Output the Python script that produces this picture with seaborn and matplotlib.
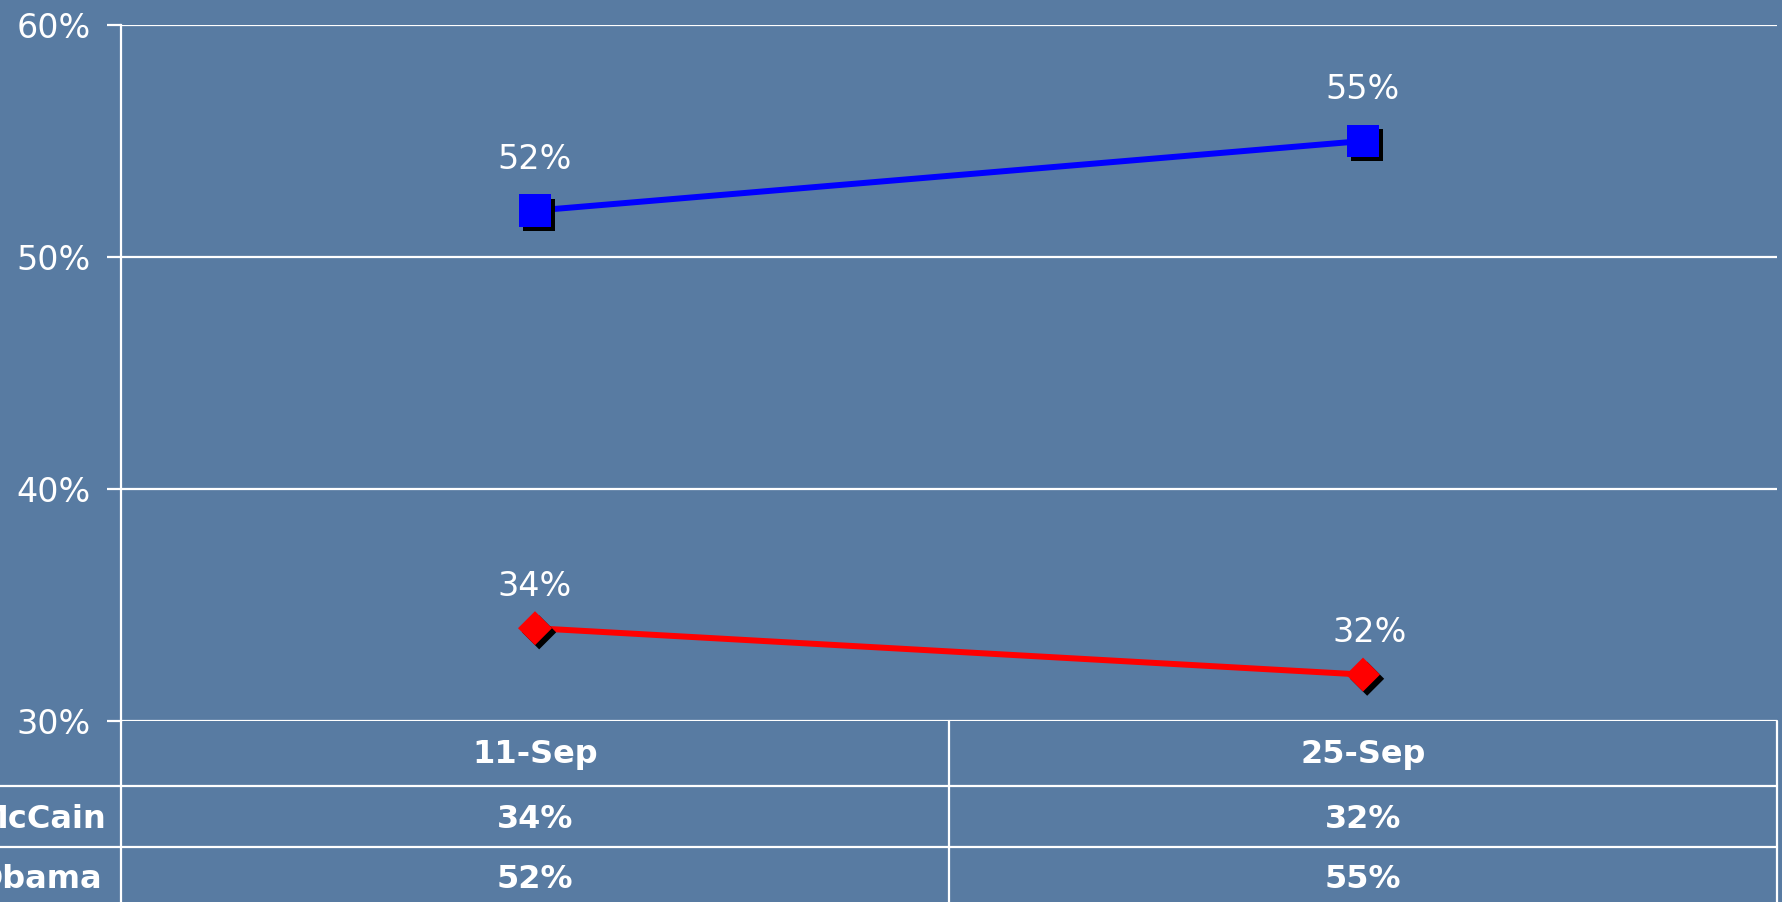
import matplotlib
matplotlib.use("Agg")
import matplotlib.pyplot as plt
import matplotlib.patheffects as pe
import matplotlib.transforms as mtransforms
from matplotlib.lines import Line2D
from matplotlib.ticker import FuncFormatter, MultipleLocator
import pandas as pd
import seaborn as sns

# ---------------- data ----------------
dates = ["11-Sep", "25-Sep"]
candidates = ["McCain", "Obama"]
mccain = [34, 32]
obama = [52, 55]
series = {"McCain": mccain, "Obama": obama}
y_ticks = [30, 40, 50, 60]

df = pd.DataFrame(
    [(d, c, series[c][i]) for c in candidates for i, d in enumerate(dates)],
    columns=["date", "candidate", "value"],
)

# ---------------- style ----------------
BG = "#587BA2"
W, H = 1783, 902
sns.set_theme(style="white")
plt.rcParams["font.family"] = ["DejaVu Sans"]

fig = plt.figure(figsize=(W / 100, H / 100), dpi=100, facecolor=BG)

def fx(px):
    return px / W

def fy(py):
    return 1 - py / H

ax_l, ax_r, ax_t, ax_b = 121, 1777, 25, 721
ax = fig.add_axes([fx(ax_l), fy(ax_b), fx(ax_r) - fx(ax_l), fy(ax_t) - fy(ax_b)])
ax.set_facecolor(BG)

palette = {"Obama": "#0000FF", "McCain": "#FF0000"}
sns.lineplot(data=df, x="date", y="value", hue="candidate", palette=palette,
             sort=False, legend=False, linewidth=4.3, ax=ax, zorder=3)

shadow = [pe.SimplePatchShadow(offset=(3, -3), shadow_rgbFace="black", alpha=1.0), pe.Normal()]
sns.scatterplot(data=df[df.candidate == "Obama"], x="date", y="value", color="#0000FF",
                marker="s", s=540, linewidth=0, legend=False, ax=ax, zorder=4,
                path_effects=shadow)
sns.scatterplot(data=df[df.candidate == "McCain"], x="date", y="value", color="#FF0000",
                marker="D", s=300, linewidth=0, legend=False, ax=ax, zorder=4,
                path_effects=shadow)

ax.set_xlim(-0.5, len(dates) - 0.5)
ax.set_ylim(y_ticks[0], y_ticks[-1])
ax.yaxis.set_major_locator(MultipleLocator(10))
ax.yaxis.set_major_formatter(FuncFormatter(lambda v, p: f"{v:.0f}%"))
ax.set_xticks([])
ax.set_xlabel("")
ax.set_ylabel("")
ax.grid(axis="y", color="white", linewidth=1.6)
ax.tick_params(axis="y", colors="white", labelsize=24, length=10, width=1.6, pad=12,
               left=True)
for s in ["top", "right", "bottom"]:
    ax.spines[s].set_visible(False)
ax.spines["left"].set_color("white")
ax.spines["left"].set_linewidth(1.6)

# data labels
label_offsets = {"Obama": [(0, 37), (0, 37)], "McCain": [(0, 30), (5, 30)]}
for c in candidates:
    for i, v in enumerate(series[c]):
        ax.annotate(f"{v}%", (i, v), xytext=label_offsets[c][i], textcoords="offset points",
                    ha="center", va="center", color="white", fontsize=24, zorder=5)

# ---------------- data table ----------------
lw = 1.6
blend = mtransforms.blended_transform_factory(ax.transData, fig.transFigure)
row_lines = [786, 847]
for yl in row_lines:
    fig.add_artist(Line2D([0, fx(ax_r)], [fy(yl), fy(yl)], color="white", linewidth=lw))
fig.add_artist(Line2D([fx(ax_l), fx(ax_l)], [fy(ax_b), 0], color="white", linewidth=lw))
fig.add_artist(Line2D([fx(ax_r), fx(ax_r)], [fy(ax_b), 0], color="white", linewidth=lw))
for k in range(1, len(dates)):
    fig.add_artist(Line2D([k - 0.5, k - 0.5], [fy(ax_b), 0], color="white",
                          linewidth=lw, transform=blend))

row_centers = [754, 819, 880]
tsize = 23
tfont = dict(color="white", fontsize=tsize, fontweight="bold", ha="center", va="center")
for i, d in enumerate(dates):
    fig.text(i, fy(row_centers[0]), d, transform=blend, **tfont)
    fig.text(i, fy(row_centers[1]), f"{mccain[i]}%", transform=blend, **tfont)
    fig.text(i, fy(row_centers[2]), f"{obama[i]}%", transform=blend, **tfont)
fig.text(fx(106), fy(row_centers[1]), "McCain", color="white", fontsize=tsize,
         fontweight="bold", ha="right", va="center")
fig.text(fx(102), fy(row_centers[2]), "Obama", color="white", fontsize=tsize,
         fontweight="bold", ha="right", va="center")

fig.savefig("out.png", dpi=100, facecolor=BG)
